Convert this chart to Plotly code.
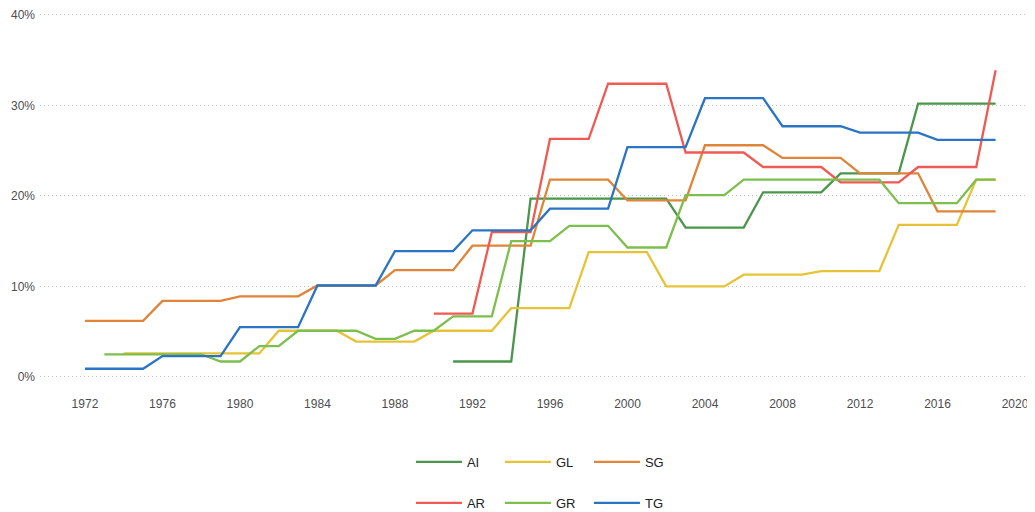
import plotly.graph_objects as go

# yearly shares (%) per group
years_sg = list(range(1972, 2020))
sg = [6.2, 6.2, 6.2, 6.2, 8.4, 8.4, 8.4, 8.4, 8.9, 8.9, 8.9, 8.9,
      10.1, 10.1, 10.1, 10.1, 11.8, 11.8, 11.8, 11.8, 14.5, 14.5, 14.5, 14.5,
      21.8, 21.8, 21.8, 21.8, 19.5, 19.5, 19.5, 19.5, 25.6, 25.6, 25.6, 25.6,
      24.2, 24.2, 24.2, 24.2, 22.5, 22.5, 22.5, 22.5, 18.3, 18.3, 18.3, 18.3]

years_tg = list(range(1972, 2020))
tg = [0.9, 0.9, 0.9, 0.9, 2.3, 2.3, 2.3, 2.3, 5.5, 5.5, 5.5, 5.5,
      10.1, 10.1, 10.1, 10.1, 13.9, 13.9, 13.9, 13.9, 16.2, 16.2, 16.2, 16.2,
      18.6, 18.6, 18.6, 18.6, 25.4, 25.4, 25.4, 25.4, 30.8, 30.8, 30.8, 30.8,
      27.7, 27.7, 27.7, 27.7, 27.0, 27.0, 27.0, 27.0, 26.2, 26.2, 26.2, 26.2]

years_ar = list(range(1990, 2020))
ar = [7.0, 7.0, 7.0, 16.0, 16.0, 16.0, 26.3, 26.3, 26.3, 32.4, 32.4, 32.4, 32.4,
      24.8, 24.8, 24.8, 24.8, 23.2, 23.2, 23.2, 23.2, 21.5, 21.5, 21.5, 21.5,
      23.2, 23.2, 23.2, 23.2, 33.9]

years_ai = list(range(1991, 2020))
ai = [1.7, 1.7, 1.7, 1.7, 19.7, 19.7, 19.7, 19.7, 19.7, 19.7, 19.7, 19.7,
      16.5, 16.5, 16.5, 16.5, 20.4, 20.4, 20.4, 20.4, 22.5, 22.5, 22.5, 22.5,
      30.2, 30.2, 30.2, 30.2, 30.2]

years_gr = list(range(1973, 2020))
gr = [2.5, 2.5, 2.5, 2.5, 2.5, 2.5, 1.7, 1.7, 3.4, 3.4, 5.1, 5.1, 5.1, 5.1,
      4.2, 4.2, 5.1, 5.1, 6.7, 6.7, 6.7, 15.0, 15.0, 15.0, 16.7, 16.7, 16.7,
      14.3, 14.3, 14.3, 20.1, 20.1, 20.1, 21.8, 21.8, 21.8, 21.8, 21.8, 21.8,
      21.8, 21.8, 19.2, 19.2, 19.2, 19.2, 21.8, 21.8]

years_gl = list(range(1974, 2020))
gl = [2.6, 2.6, 2.6, 2.6, 2.6, 2.6, 2.6, 2.6, 5.1, 5.1, 5.1, 5.1,
      3.9, 3.9, 3.9, 3.9, 5.1, 5.1, 5.1, 5.1, 7.6, 7.6, 7.6, 7.6,
      13.8, 13.8, 13.8, 13.8, 10.0, 10.0, 10.0, 10.0, 11.3, 11.3, 11.3, 11.3,
      11.7, 11.7, 11.7, 11.7, 16.8, 16.8, 16.8, 16.8, 21.8, 21.8]

x_ticks = list(range(1972, 2021, 4))
y_ticks = [0, 10, 20, 30, 40]
y_labels = ['0%', '10%', '20%', '30%', '40%']

series = [
    ('AI', years_ai, ai, '#4a964a', 'legend'),
    ('GL', years_gl, gl, '#e6c336', 'legend'),
    ('SG', years_sg, sg, '#df8438', 'legend'),
    ('AR', years_ar, ar, '#ef5a52', 'legend2'),
    ('GR', years_gr, gr, '#7dbf4e', 'legend2'),
    ('TG', years_tg, tg, '#2b74c4', 'legend2'),
]

fig = go.Figure()
for name, xs, ys, col, leg in series:
    fig.add_trace(go.Scatter(x=xs, y=ys, mode='lines', name=name,
                             line=dict(color=col, width=2.3), legend=leg))

legend_style = dict(orientation='h', xanchor='center', x=0.508, yanchor='middle',
                    yref='container',
                    font=dict(family='Liberation Sans, Arial', size=13, color='#222222'),
                    entrywidth=28, itemwidth=46, bgcolor='rgba(0,0,0,0)')

# page body adds an 8px margin, so the figure is 8px smaller than the window
fig.update_layout(
    width=1027, height=504,
    margin=dict(l=32, r=2, t=2, b=117, autoexpand=False),
    plot_bgcolor='white', paper_bgcolor='white',
    font=dict(family='Liberation Sans, Arial', size=12, color='#4d4d4d'),
    legend=dict(y=0.0992, **legend_style),
    legend2=dict(y=0.0179, **legend_style),
    xaxis=dict(range=[1969.68, 2020.93], tickvals=x_ticks, showgrid=False,
               zeroline=False, showline=False, ticks='', automargin=False,
               tickfont=dict(size=12, color='#4d4d4d')),
    yaxis=dict(range=[-2, 40.55], tickvals=y_ticks, ticktext=y_labels,
               showgrid=True, gridcolor='#c4c4c4', griddash='1px,3px', gridwidth=1,
               zeroline=False, showline=False, ticks='', ticklabelstandoff=4,
               automargin=False, tickfont=dict(size=12, color='#4d4d4d')),
)

fig.write_html("out.html")
